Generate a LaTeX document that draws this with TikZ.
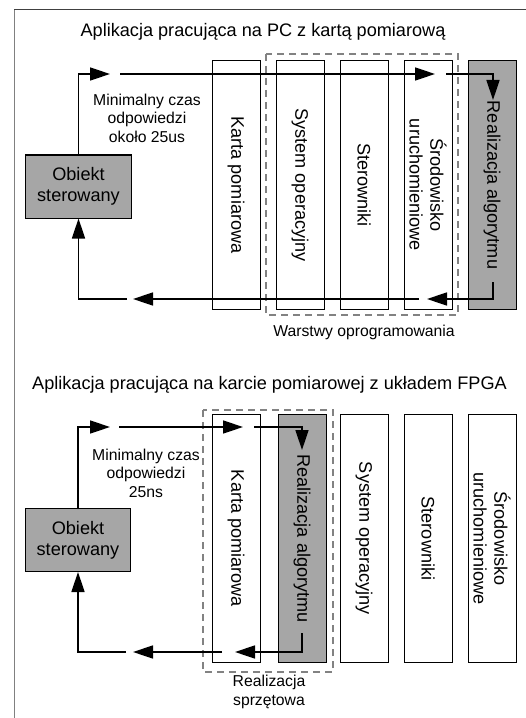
\documentclass[tikz,border=0pt]{standalone}
\usepackage{fontspec}
\setmainfont{Liberation Sans}
\usetikzlibrary{arrows.meta}
\definecolor{fillgray}{RGB}{166,166,166}
\definecolor{dashgray}{RGB}{130,130,130}
\newcommand{\labfont}{\fontsize{18.2}{21}\selectfont}
\newcommand{\notefont}{\fontsize{15.8}{18.5}\selectfont}

\begin{document}
\begin{tikzpicture}[x=1bp,y=-1bp,>={Triangle[length=20bp,width=13bp]},line join=miter,
  layer/.style={draw,fill=white,line width=1bp,rotate=-90,minimum width=248bp,minimum height=48bp,inner sep=0pt,align=center,font=\labfont},
  algo/.style={layer,fill=fillgray},
  plant/.style={draw,fill=fillgray,line width=1bp,minimum width=105bp,minimum height=63bp,inner sep=0pt,align=center,font=\labfont},
  group/.style={draw=dashgray,dash pattern=on 7bp off 5bp,line width=1.2bp},
  note/.style={align=center,inner sep=0pt,font=\notefont},
  title/.style={inner sep=0pt,font=\labfont},
  wire/.style={->,line width=1.5bp},
]
\useasboundingbox (0,0) rectangle (526,718);
% Frame
\draw[gray,line width=1.5bp] (14.5,718) -- (14.5,9.5);
\draw[darkgray,line width=1.5bp] (14,9.5) -- (526,9.5);
%%
%% Upper panel: PC with measurement card
%%
\node[title] (title1) at (263,32) {Aplikacja pracująca na PC z kartą pomiarową};
  % Group: software layers
\draw[group] (266,54) rectangle (458,315);
\node[note] (grp1) at (364,332) {Warstwy oprogramowania};
  % Node: layers
\node[layer] (card1) at (236,185) {Karta pomiarowa};
\node[layer] (os1) at (300,185) {System operacyjny};
\node[layer] (drv1) at (364,185) {Sterowniki};
\node[layer] (env1) at (428,185) {Środowisko\\uruchomieniowe};
\node[algo] (alg1) at (492,185) {Realizacja algorytmu};
  % Node: plant
\node[plant] (obj1) at (78.5,186.5) {Obiekt\\sterowany};
\node[note] (time1) at (147,118) {Minimalny czas\\odpowiedzi\\około 25us};
  % Edge: obj1 -> alg1
\coordinate (u1) at (110,74);
\coordinate (u2) at (120,74);
\coordinate (u3) at (435,74);
\coordinate (u4) at (446,74);
\coordinate (u5) at (493,100);
\draw[wire] (obj1.north) |- (u1);
\draw[wire] (u2) -- (u3);
\draw[wire] (u4) -| (u5);
  % Edge: alg1 -> obj1
\coordinate (r0) at (493,282);
\coordinate (r1) at (427,299);
\coordinate (r2) at (419,299);
\coordinate (r3) at (133,299);
\coordinate (r4) at (127,299);
\draw[wire] (r0) |- (r1);
\draw[wire] (r2) -- (r3);
\draw[wire] (r4) -| (obj1.south);
%%
%% Lower panel: FPGA measurement card
%%
\node[title] (title2) at (269.5,385) {Aplikacja pracująca na karcie pomiarowej z układem FPGA};
  % Group: hardware realisation
\draw[group] (203,410) rectangle (333,672);
\node[note] (grp2) at (269,692) {Realizacja\\sprzętowa};
  % Node: layers
\node[layer] (card2) at (236,538.5) {Karta pomiarowa};
\node[algo] (alg2) at (302,538.5) {Realizacja algorytmu};
\node[layer] (os2) at (364,538.5) {System operacyjny};
\node[layer] (drv2) at (428,538.5) {Sterowniki};
\node[layer] (env2) at (492,538.5) {Środowisko\\uruchomieniowe};
  % Node: plant
\node[plant] (obj2) at (78,540) {Obiekt\\sterowany};
\node[note] (time2) at (146,473) {Minimalny czas\\odpowiedzi\\25ns};
  % Edge: obj2 -> alg2
\coordinate (v1) at (110,427);
\coordinate (v2) at (119,427);
\coordinate (v3) at (243,427);
\coordinate (v4) at (254,427);
\coordinate (v5) at (302,450);
\draw[wire] (obj2.north) |- (v1);
\draw[wire] (v2) -- (v3);
\draw[wire] (v4) -| (v5);
  % Edge: alg2 -> obj2
\coordinate (s0) at (302,633);
\coordinate (s1) at (235,652);
\coordinate (s2) at (222,652);
\coordinate (s3) at (133,652);
\coordinate (s4) at (126,652);
\draw[wire] (s0) |- (s1);
\draw[wire] (s2) -- (s3);
\draw[wire] (s4) -| (obj2.south);
%
\end{tikzpicture}
\end{document}
